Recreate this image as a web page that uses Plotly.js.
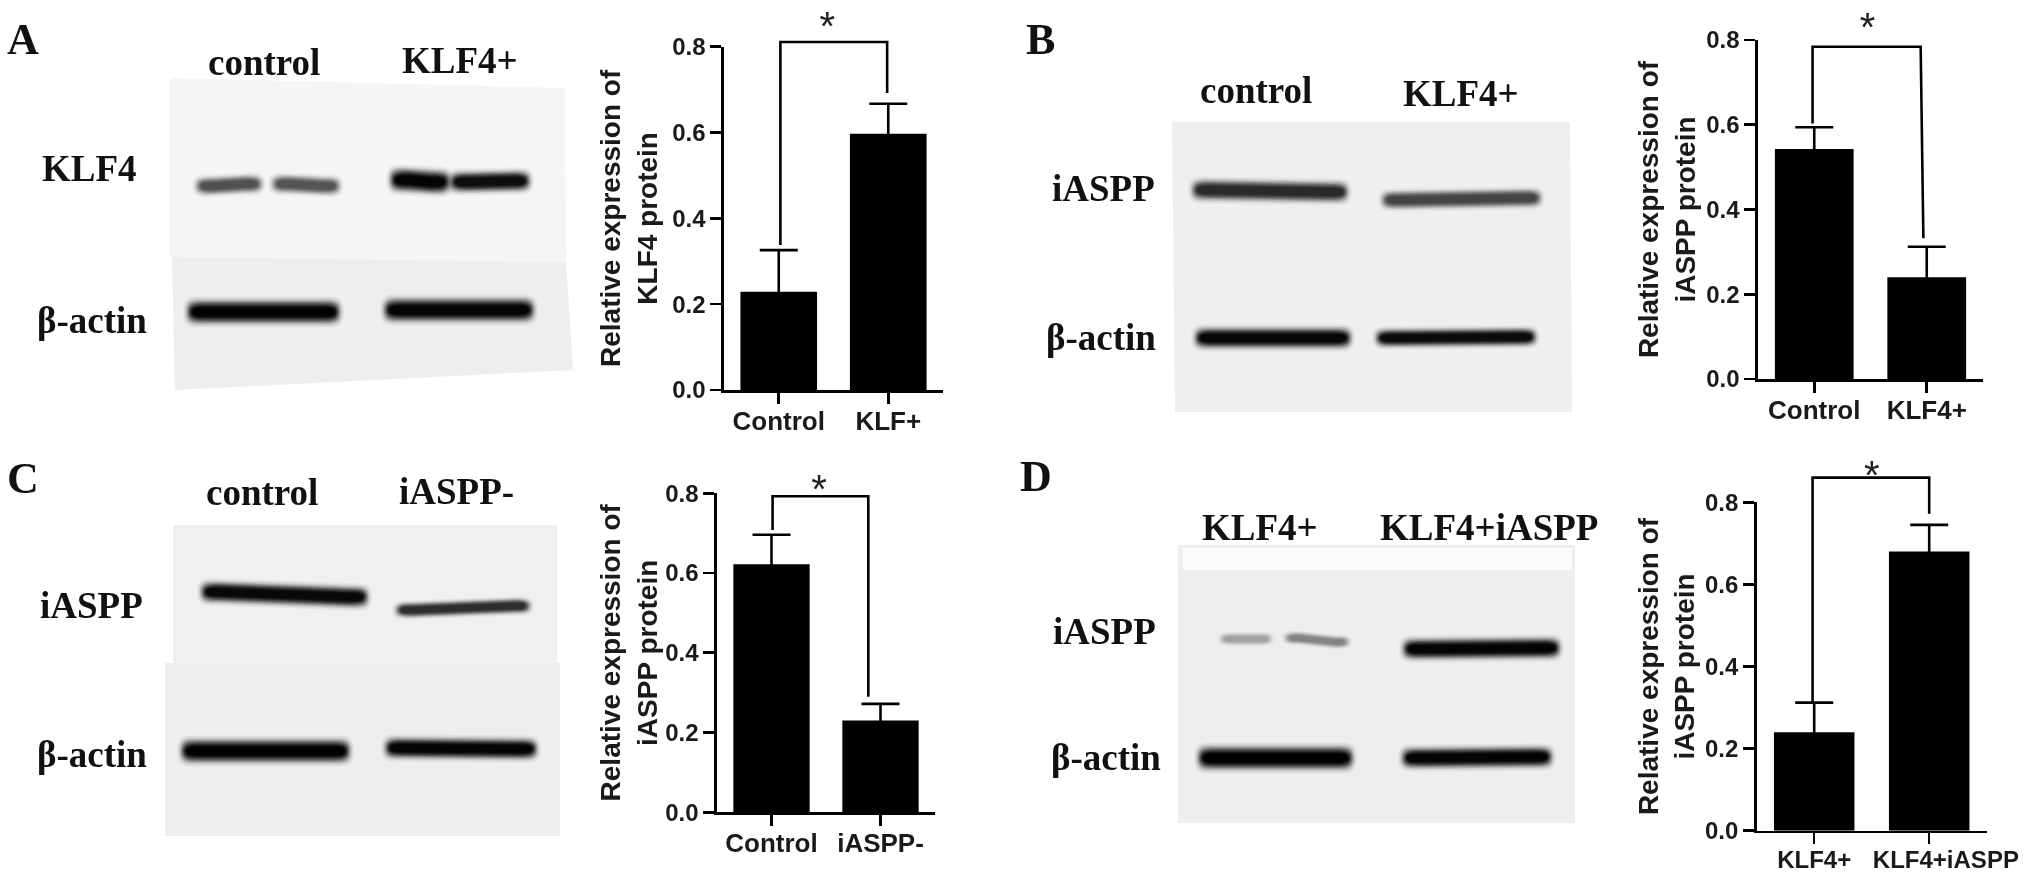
<!DOCTYPE html>
<html><head><meta charset="utf-8">
<script src="https://cdn.plot.ly/plotly-3.0.1.min.js"></script>
<style>html,body{margin:0;padding:0;background:#fff;overflow:hidden}#chart{width:2031px;height:878px;filter:blur(0.6px)}</style>
</head><body><div id="chart"></div>
<script>
// ---- values ----
const catsA = ['Control', 'KLF+'];
const catsB = ['Control', 'KLF4+'];
const catsC = ['Control', 'iASPP-'];
const catsD = ['KLF4+', '\u00a0\u00a0\u00a0\u00a0\u00a0KLF4+iASPP'];
const valsA = [0.229, 0.597];
const valsB = [0.543, 0.240];
const valsC = [0.622, 0.230];
const valsD = [0.240, 0.680];
const errsA = [0.097, 0.070];
const errsB = [0.051, 0.072];
const errsC = [0.074, 0.042];
const errsD = [0.072, 0.065];
const yTitleA = 'Relative expression of<br>KLF4 protein';
const yTitleB = 'Relative expression of<br>iASPP protein';
const yTitleC = 'Relative expression of<br>iASPP protein';
const yTitleD = 'Relative expression of<br>iASPP protein';
const bracketXA = [0.015, 0.015, 0.99, 0.99];
const bracketYA = [0.338, 0.811, 0.811, 0.692];
const bracketXB = [-0.015, -0.015, 0.946, 0.97];
const bracketYB = [0.603, 0.784, 0.784, 0.332];
const bracketXC = [0.01, 0.01, 0.888, 0.888];
const bracketYC = [0.708, 0.7925, 0.7925, 0.29];
const bracketXD = [-0.014, -0.014, 1.0, 1.0];
const bracketYD = [0.314, 0.86, 0.86, 0.772];
const starA = [0.443, 0.839];
const starB = [0.473, 0.821];
const starC = [0.436, 0.80];
const starD = [0.50, 0.857];

const W = 2031, H = 878;
const px = x => x / W, py = y => 1 - y / H;
const sans = 'Liberation Sans, Arial, sans-serif', serif = 'Liberation Serif, Times New Roman, serif';

const panels = [
  {n:1, cats:catsA, vals:valsA, errs:errsA, title:yTitleA, bx:bracketXA, by:bracketYA, star:starA, dx:[724,943], dy:[46.7,390], tick:26, so:7, top:0.9},
  {n:2, cats:catsB, vals:valsB, errs:errsB, title:yTitleB, bx:bracketXB, by:bracketYB, star:starB, dx:[1758,1983], dy:[40,379], tick:26, so:3, top:0.89},
  {n:3, cats:catsC, vals:valsC, errs:errsC, title:yTitleC, bx:bracketXC, by:bracketYC, star:starC, dx:[717,935], dy:[493.3,812.3], tick:26, so:0, top:0.9},
  {n:4, cats:catsD, vals:valsD, errs:errsD, title:yTitleD, bx:bracketXD, by:bracketYD, star:starD, dx:[1756.7,1986.7], dy:[502.3,830.7], tick:24, so:2, top:0.9}
];

const traces = [];
const layout = {width:W, height:H, margin:{l:0,r:0,t:0,b:0}, paper_bgcolor:'#fff', plot_bgcolor:'rgba(0,0,0,0)', showlegend:false, shapes:[], annotations:[]};

panels.forEach(p => {
  const xa = 'x'+p.n, ya = 'y'+p.n, yo = 'y'+(p.n+4);
  traces.push({type:'bar', x:[0,1], y:p.vals, width:0.7, xaxis:xa, yaxis:ya, marker:{color:'#000'},
    error_y:{type:'data', array:p.errs, arrayminus:[0.02,0.02], symmetric:false, color:'#000', thickness:2.6, width:19}, hoverinfo:'skip', cliponaxis:false});
  traces.push({type:'scatter', mode:'lines', x:p.bx, y:p.by, xaxis:xa, yaxis:yo, line:{color:'#000', width:2.6}, hoverinfo:'skip'});
  traces.push({type:'scatter', mode:'text', x:[p.star[0]], y:[p.star[1]], text:['*'], textposition:'middle center',
    textfont:{family:sans, size:40, color:'#222'}, xaxis:xa, yaxis:yo, cliponaxis:false, hoverinfo:'skip'});
  layout['xaxis'+p.n] = {domain:[px(p.dx[0]),px(p.dx[1])], anchor:ya, range:[-0.5,1.5], tickmode:'array', tickvals:[0,1], ticktext:p.cats,
    showgrid:false, zeroline:false, showline:true, linecolor:'#000', linewidth:2.6, ticks:'outside', ticklen:11, tickwidth:2.6, tickcolor:'#000',
    tickfont:{family:sans, size:p.tick, color:'#1a1a1a', weight:700}, tickangle:0, ticklabelstandoff:-5};
  layout['yaxis'+p.n] = {domain:[py(p.dy[1]),py(p.dy[0])], anchor:xa, range:[0,0.8], tickmode:'array', tickvals:[0,0.2,0.4,0.6,0.8], ticktext:['0.0','0.2','0.4','0.6','0.8'],
    showgrid:false, zeroline:false, showline:true, linecolor:'#000', linewidth:2.6, ticks:'outside', ticklen:11, tickwidth:2.6, tickcolor:'#000',
    tickfont:{family:sans, size:24, color:'#1a1a1a', weight:700},
    title:{text:p.title, font:{family:sans, size:28, color:'#1a1a1a', weight:700}, standoff:p.so}};
  // same scale as the value axis, taller, so the bracket and star can sit above the 0.8 tick
  const len = p.dy[1]-p.dy[0];
  layout['yaxis'+(p.n+4)] = {domain:[py(p.dy[1]), py(p.dy[1]-len*p.top/0.8)], anchor:xa, range:[0,p.top], visible:false};
});

// ---- blot panels drawn as soft shapes ----
function poly(pts, fill){
  const d = pts.map((q,i)=>(i?'L':'M')+px(q[0])+','+py(q[1])).join(' ')+' Z';
  layout.shapes.push({type:'path', xref:'paper', yref:'paper', path:d, fillcolor:fill, line:{width:0}, layer:'below'});
}
function band(x0,y0,x1,y1,hh,dark){
  const N = 14; let prev = 0;
  for(let i=0;i<N;i++){
    const t=i/(N-1), s=t*t*(3-2*t), D=dark*(0.05+0.95*s);
    const a=1-(1-D)/(1-prev); prev=D;
    const h=hh*(1.95-1.5*t), ins=10*t, r=Math.min(8,h*1.4);
    const xa=x0-4+ins, xb=x1+4-ins;
    const P=(x,y)=>px(x)+','+py(y);
    const d='M'+P(xa,y0)+' C'+P(xa,y0-h)+' '+P(xa+r,y0-h)+' '+P(xa+2*r,y0-h)+' L'+P(xb-2*r,y1-h)+' C'+P(xb-r,y1-h)+' '+P(xb,y1-h)+' '+P(xb,y1)+
      ' C'+P(xb,y1+h)+' '+P(xb-r,y1+h)+' '+P(xb-2*r,y1+h)+' L'+P(xa+2*r,y0+h)+' C'+P(xa+r,y0+h)+' '+P(xa,y0+h)+' '+P(xa,y0)+' Z';
    layout.shapes.push({type:'path', xref:'paper', yref:'paper', path:d, fillcolor:'#000', opacity:a, line:{width:0}, layer:'below'});
  }
}
// A
poly([[170,78],[565,88],[566,262],[170,257]],'#f5f5f5');
poly([[172,257],[566,262],[573,370],[175,390]],'#eeeeee');
band(196,186,262,184,6,0.66); band(272,184,340,186,6,0.64);
band(390,180,450,182,8,0.98); band(450,182,530,181,7,0.94);
band(187,312,340,312,8,0.99); band(384,310,534,310,8,0.98);
// B
poly([[1172,122],[1570,122],[1572,412],[1175,412]],'#efefef');
band(1192,190,1348,192,7,0.82); band(1382,200,1541,198,6,0.70);
band(1195,338,1351,338,7,0.97); band(1376,338,1536,337,6,0.95);
// C
poly([[173,525],[557,525],[557,663],[173,663]],'#f0f0f0');
poly([[165,663],[560,663],[560,836],[165,836]],'#eeeeee');
band(201,592,368,597,7,0.96); band(396,610,530,606,5,0.80);
band(181,751,350,751,8,0.99); band(385,748,537,749,7,0.98);
// D
poly([[1178,545],[1575,545],[1575,823],[1178,823]],'#eeeeee');
poly([[1183,548],[1572,548],[1572,570],[1183,570]],'#fcfcfc');
band(1220,639,1272,639,4,0.30); band(1285,638,1349,642,4,0.42);
band(1403,649,1560,648,7,0.98);
band(1198,758,1353,758,8,0.99); band(1402,758,1552,757,7,0.98);

// ---- serif labels ----
function label(text,x,y,size){
  layout.annotations.push({text:text, xref:'paper', yref:'paper', x:px(x), y:py(y), xanchor:'center', yanchor:'middle', showarrow:false,
    font:{family:serif, size:size, color:'#111', weight:700}});
}
[['A',23,40,44],['B',1040,40,44],['C',23,479,44],['D',1036,477,44],
 ['control',264,62,37],['KLF4+',460,61,37],['KLF4',89,168,37],['β-actin',92,320,37],
 ['control',1256,91,37],['KLF4+',1461,93,37],['iASPP',1103,188,37],['β-actin',1101,338,37],
 ['control',262,492,37],['iASPP-',456,491,37],['iASPP',91,605,37],['β-actin',92,754,37],
 ['KLF4+',1260,527,37],['KLF4+iASPP',1489,527,37],['iASPP',1104,631,37],['β-actin',1106,757,37]
].forEach(a=>label(a[0],a[1],a[2],a[3]));

Plotly.newPlot('chart', traces, layout, {staticPlot:true, displayModeBar:false});
</script></body></html>
